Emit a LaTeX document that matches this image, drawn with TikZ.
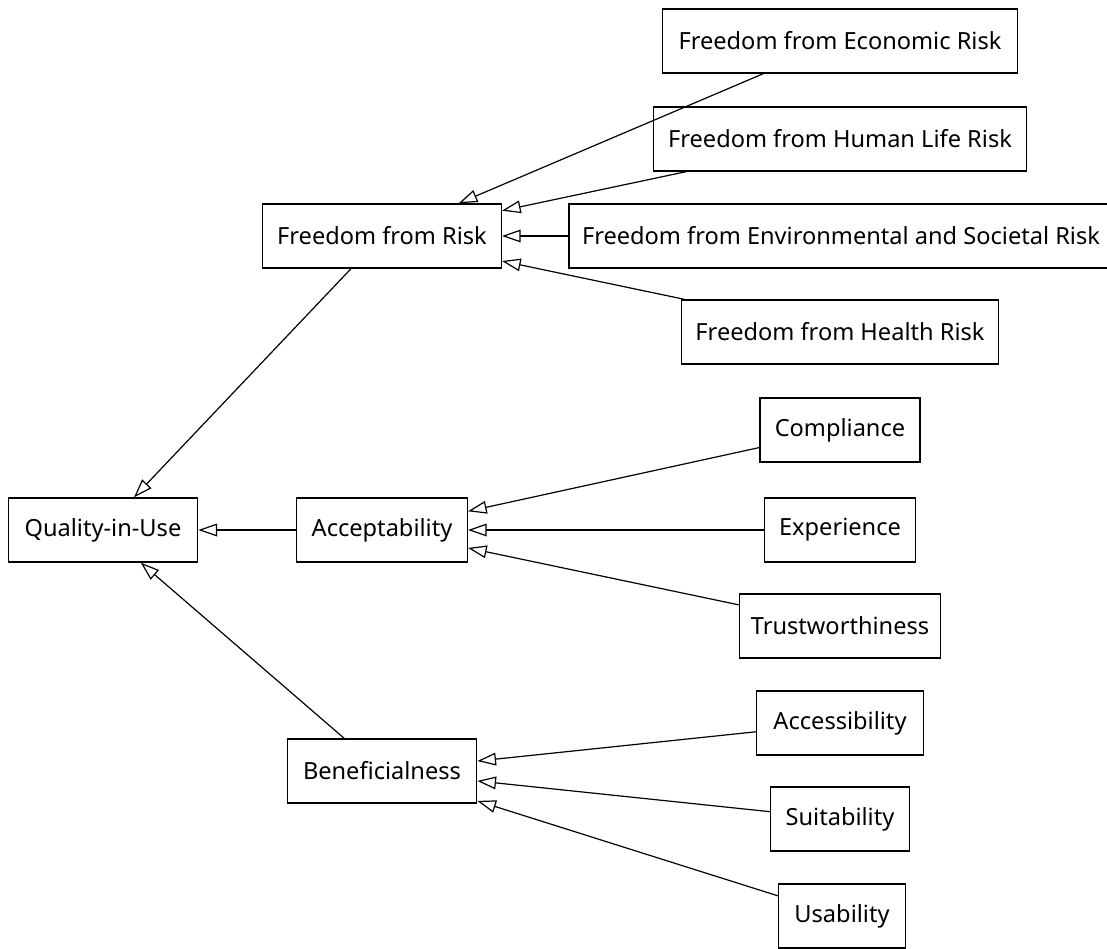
\documentclass[tikz,border=0pt]{standalone}
\usepackage{fontspec}
\setmainfont{Noto Sans}
\usetikzlibrary{arrows.meta}
\begin{document}
\begin{tikzpicture}[x=0.75pt,y=-0.75pt,
  box/.style={draw,line width=1pt,minimum height=48pt,inner sep=0pt,
    font=\fontsize{17.7}{20}\selectfont},
  isa/.style={line width=0.9pt,-{Triangle[open,length=14pt,width=9.5pt,line width=0.9pt]}}]
\useasboundingbox (0,0) rectangle (1107,949);
\begin{scope}
\clip (0,0) rectangle (1107,949);
% root and its three branches
\node[box,minimum width=142pt] (qiu) at (103,530) {Quality-in-Use};
\node[box,minimum width=179pt] (risk) at (382,236) {Freedom from Risk};
\node[box,minimum width=128pt] (acc) at (382,530) {Acceptability};
\node[box,minimum width=142pt] (ben) at (382,771) {Beneficialness};
% risk leaves
\node[box,minimum width=266pt] (eco) at (840,41) {Freedom from Economic Risk};
\node[box,minimum width=280pt] (hum) at (840,139) {Freedom from Human Life Risk};
\node[box,minimum width=408pt] (env) at (841,236) {Freedom from Environmental and Societal Risk};
\node[box,minimum width=238pt] (hea) at (840,332) {Freedom from Health Risk};
% acceptability leaves
\node[box,minimum width=120pt] (com) at (840,430) {Compliance};
\node[box,minimum width=113pt] (exp) at (840,530) {Experience};
\node[box,minimum width=151pt] (tru) at (840,626) {Trustworthiness};
% beneficialness leaves
\node[box,minimum width=125pt] (acs) at (840,723) {Accessibility};
\node[box,minimum width=104pt] (sui) at (840,819) {Suitability};
\node[box,minimum width=95pt] (usa) at (842,916) {Usability};
% generalisation arrows
\draw[isa] (risk) -- (qiu);
\draw[isa] (acc) -- (qiu);
\draw[isa] (ben) -- (qiu);
\draw[isa] (eco) -- (risk);
\draw[isa] (hum) -- (risk);
\draw[isa] (env) -- (risk);
\draw[isa] (hea) -- (risk);
\draw[isa] (com) -- (acc);
\draw[isa] (exp) -- (acc);
\draw[isa] (tru) -- (acc);
\draw[isa] (acs) -- (ben);
\draw[isa] (sui) -- (ben);
\draw[isa] (usa) -- (ben);
\end{scope}
\end{tikzpicture}
\end{document}
